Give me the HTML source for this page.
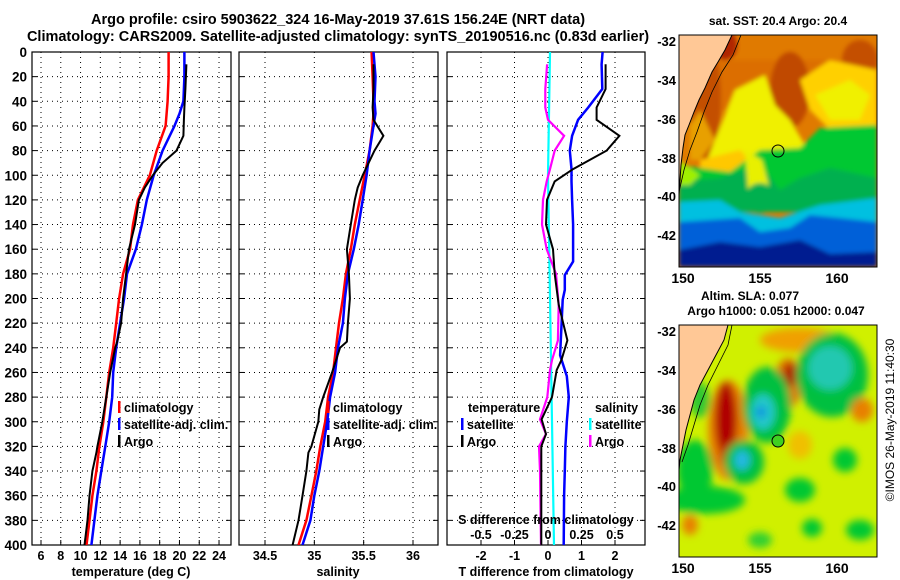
<!DOCTYPE html>
<html><head><meta charset="utf-8">
<style>
html,body{margin:0;padding:0;background:#fff;}
svg{display:block;font-family:"Liberation Sans",Arial,sans-serif;font-weight:bold;}
</style></head>
<body>
<svg id="fig" width="900" height="580" viewBox="0 0 900 580" xmlns="http://www.w3.org/2000/svg">
<defs>
<filter id="bl" x="-20%" y="-20%" width="140%" height="140%"><feGaussianBlur stdDeviation="4"/></filter>
<filter id="bl2" x="-20%" y="-20%" width="140%" height="140%"><feGaussianBlur stdDeviation="2"/></filter>
<clipPath id="c1"><rect x="32" y="52" width="199" height="493"/></clipPath>
<clipPath id="c2"><rect x="239" y="52" width="199" height="493"/></clipPath>
<clipPath id="c3"><rect x="447" y="52" width="198" height="493"/></clipPath>
<clipPath id="m1"><rect x="679" y="35" width="198" height="232"/></clipPath>
<clipPath id="m2"><rect x="679" y="325" width="198" height="232"/></clipPath>
</defs>
<text x="338" y="24" font-size="14.5" text-anchor="middle">Argo profile: csiro 5903622_324 16-May-2019 37.61S 156.24E (NRT data)</text>
<text x="338" y="41" font-size="14.5" text-anchor="middle">Climatology: CARS2009. Satellite-adjusted climatology: synTS_20190516.nc (0.83d earlier)</text>
<g id="grid"></g>
<g id="series"></g>
<g id="labels" font-size="12.5"></g>

<!-- SST map -->
<g>
<text x="778" y="25" font-size="12" text-anchor="middle">sat. SST: 20.4 Argo: 20.4</text>
<g clip-path="url(#m1)">
<rect x="679" y="35" width="198" height="232" fill="#e07a00"/>
<g filter="url(#bl2)">
<path d="M679 60 L877 60 L877 110 L679 110Z" fill="#dc6e00"/>
<ellipse cx="790" cy="90" rx="20" ry="38" fill="#c04a00"/>
<ellipse cx="860" cy="60" rx="18" ry="20" fill="#c45000"/>
<ellipse cx="705" cy="100" rx="16" ry="60" fill="#c45000"/>
<ellipse cx="725" cy="45" rx="12" ry="15" fill="#b02800"/>
<path d="M715 140 L735 90 L765 75 L775 105 L790 120 L805 145 L800 170 L790 185 L765 195 L730 178 L700 178Z" fill="#f0f000"/>
<path d="M700 160 L740 150 L760 170 L700 180Z" fill="#ffc800"/>
<path d="M800 80 L830 60 L877 70 L877 130 L830 130 L810 110Z" fill="#ffd000"/>
<path d="M815 95 L850 80 L870 95 L860 120 L830 120Z" fill="#f0f000"/>
<path d="M690 125 L700 110 L715 140 L700 160 L690 160Z" fill="#e8a000"/>
<path d="M679 165 L730 172 L760 150 L800 148 L820 128 L877 125 L877 205 L679 205Z" fill="#00c830"/>
<path d="M679 182 L720 178 L760 165 L780 190 L800 178 L830 168 L877 178 L877 212 L679 212Z" fill="#00b050"/>
<path d="M745 150 L762 160 L770 190 L748 192Z" fill="#e8f000"/>
<path d="M679 160 L700 175 L690 185 L679 185Z" fill="#a0f000"/>
<path d="M679 202 L720 200 L740 212 L780 218 L820 205 L877 198 L877 240 L679 240Z" fill="#00c0e0"/>
<path d="M679 222 L740 218 L760 232 L790 228 L810 215 L840 218 L877 222 L877 267 L679 267Z" fill="#0060d8"/>
<path d="M679 250 L720 242 L760 247 L800 240 L830 254 L877 252 L877 267 L679 267Z" fill="#001a90"/>
<ellipse cx="760" cy="198" rx="15" ry="15" fill="#00b050"/>
</g>
<path d="M679 35 L732 35 L725 50 L718 62 L712 72 L705 88 L699 100 L694 112 L689 125 L685 135 L683 148 L681 165 L679 195Z" fill="#ffc896" stroke="#000" stroke-width="1"/>
<path d="M741 35 L733 55 L722 72 L712 92 L704 112 L697 132 L690 150 L684 170 L679 192" fill="none" stroke="#000" stroke-width="0.8"/>
</g>
<rect x="679" y="35" width="198" height="232" fill="none" stroke="#000" stroke-width="1"/>
<circle cx="778" cy="151" r="6" fill="none" stroke="#000" stroke-width="1"/>
<g font-size="13">
<text x="676" y="46" text-anchor="end">-32</text><text x="676" y="85" text-anchor="end">-34</text><text x="676" y="124" text-anchor="end">-36</text><text x="676" y="163" text-anchor="end">-38</text><text x="676" y="201" text-anchor="end">-40</text><text x="676" y="240" text-anchor="end">-42</text>
<text x="683" y="283" text-anchor="middle" font-size="14">150</text><text x="760" y="283" text-anchor="middle" font-size="14">155</text><text x="837" y="283" text-anchor="middle" font-size="14">160</text>
</g>
</g>

<!-- SLA map -->
<g>
<text x="750" y="300" font-size="12" text-anchor="middle">Altim. SLA: 0.077</text>
<text x="776" y="315" font-size="12" text-anchor="middle">Argo h1000: 0.051 h2000: 0.047</text>
<g clip-path="url(#m2)">
<rect x="679" y="325" width="198" height="232" fill="#d0f000"/>
<g filter="url(#bl)">
<ellipse cx="800" cy="340" rx="40" ry="12" fill="#f0a000"/>
<ellipse cx="728" cy="430" rx="20" ry="50" fill="#e88000"/>
<ellipse cx="726" cy="420" rx="11" ry="38" fill="#b00000"/>
<ellipse cx="728" cy="455" rx="8" ry="12" fill="#c02000"/>
<ellipse cx="788" cy="383" rx="14" ry="25" fill="#e07800"/>
<ellipse cx="790" cy="375" rx="7" ry="12" fill="#b01800"/>
<ellipse cx="767" cy="405" rx="24" ry="38" fill="#00c040"/>
<ellipse cx="763" cy="412" rx="12" ry="18" fill="#20c8c8"/>
<ellipse cx="761" cy="412" rx="5" ry="6" fill="#1090e0"/>
<ellipse cx="832" cy="375" rx="36" ry="42" fill="#00c040"/>
<ellipse cx="830" cy="368" rx="22" ry="22" fill="#20c8b0"/>
<ellipse cx="862" cy="410" rx="11" ry="12" fill="#e88000"/>
<ellipse cx="744" cy="462" rx="20" ry="22" fill="#00c040"/>
<ellipse cx="742" cy="460" rx="8" ry="10" fill="#20b8e0"/>
<ellipse cx="695" cy="470" rx="18" ry="30" fill="#00c830"/>
<ellipse cx="705" cy="500" rx="40" ry="14" fill="#00c830"/>
<ellipse cx="800" cy="490" rx="15" ry="12" fill="#00c830"/>
<ellipse cx="845" cy="460" rx="12" ry="12" fill="#00c830"/>
<ellipse cx="860" cy="530" rx="14" ry="10" fill="#00c830"/>
<ellipse cx="812" cy="528" rx="10" ry="9" fill="#00c830"/>
<ellipse cx="760" cy="540" rx="12" ry="8" fill="#30d030"/>
<ellipse cx="690" cy="525" rx="8" ry="10" fill="#e88000"/>
<ellipse cx="800" cy="445" rx="12" ry="14" fill="#f0c000"/>
<ellipse cx="700" cy="400" rx="10" ry="18" fill="#30c830"/>
</g>
<path d="M679 325 L728 325 L724 340 L716 355 L708 370 L700 385 L694 400 L690 415 L686 430 L683 445 L680 460 L679 470Z" fill="#ffc896" stroke="#000" stroke-width="1"/>
<path d="M732 325 L728 345 L718 365 L708 385 L700 405 L694 425 L688 445 L682 462" fill="none" stroke="#000" stroke-width="0.8"/>
</g>
<rect x="679" y="325" width="198" height="232" fill="none" stroke="#000" stroke-width="1"/>
<circle cx="778" cy="441" r="6" fill="#40d020" stroke="#000" stroke-width="1"/>
<g font-size="13">
<text x="676" y="336" text-anchor="end">-32</text><text x="676" y="375" text-anchor="end">-34</text><text x="676" y="414" text-anchor="end">-36</text><text x="676" y="453" text-anchor="end">-38</text><text x="676" y="491" text-anchor="end">-40</text><text x="676" y="530" text-anchor="end">-42</text>
<text x="683" y="573" text-anchor="middle" font-size="14">150</text><text x="760" y="573" text-anchor="middle" font-size="14">155</text><text x="837" y="573" text-anchor="middle" font-size="14">160</text>
</g>
<text transform="translate(894,420) rotate(-90)" font-size="12" font-weight="normal" text-anchor="middle">©IMOS 26-May-2019 11:40:30</text>
</g>
</svg>
<script>
// ---- data ----
const depthTicks = [0,20,40,60,80,100,120,140,160,180,200,220,240,260,280,300,320,340,360,380,400];
const tempTicks = [6,8,10,12,14,16,18,20,22,24];
const salTicks = [34.5,35,35.5,36];
const tDiffTicks = [-2,-1,0,1,2];
const sDiffTicks = [-0.5,-0.25,0,0.25,0.5];
const sDiffTickLabels = ["-0.5","-0.25","0","0.25","0.5"];

const depthsClim = [0,20,40,50,60,80,100,120,140,160,180,200,220,240,260,280,300,320,340,360,380,400];
const tempClim = [18.9,18.9,18.8,18.7,18.6,17.7,17.0,15.8,15.3,15.0,14.3,13.9,13.6,13.3,12.9,12.6,12.3,11.9,11.6,11.2,10.9,10.6];
const tempSat = [20.5,20.5,20.4,20.0,19.5,18.3,17.4,16.7,16.2,15.6,14.7,14.4,14.0,13.6,13.3,13.2,12.9,12.5,12.1,11.7,11.4,11.1];
const salClim = [35.58,35.59,35.60,35.60,35.59,35.56,35.51,35.46,35.41,35.37,35.32,35.29,35.25,35.22,35.19,35.14,35.11,35.06,35.02,34.97,34.92,34.84];
const salSat = [35.60,35.62,35.61,35.62,35.60,35.56,35.53,35.49,35.45,35.40,35.34,35.31,35.29,35.24,35.21,35.16,35.13,35.09,35.05,35.00,34.96,34.88];

const depthsArgo = [10,30,45,55,68,80,90,100,110,120,140,160,180,200,220,235,240,260,280,290,300,320,325,340,360,380,400];
const tempArgo = [20.7,20.6,20.5,20.45,20.4,19.7,18.3,17.3,16.5,15.9,15.5,14.9,14.6,14.3,14.1,13.7,13.5,13.0,12.6,12.4,12.2,11.7,11.6,11.2,10.9,10.7,10.4];
const salArgo = [35.60,35.60,35.59,35.60,35.70,35.61,35.55,35.49,35.44,35.41,35.37,35.33,35.35,35.36,35.34,35.33,35.26,35.18,35.09,35.05,35.04,34.97,34.94,34.92,34.88,34.84,34.78];

const depthsDiffSat = [0,10,30,45,55,68,80,95,105,120,140,160,170,181,193,201,246,263,280,300,320,340,360,400];
const tDiffSat = [1.63,1.6,1.62,1.2,0.9,0.72,0.65,0.7,0.7,0.72,0.75,0.75,0.75,0.5,0.5,0.44,0.36,0.56,0.62,0.56,0.52,0.5,0.48,0.47];
const depthsDiffArgo = [10,30,45,55,68,80,95,105,120,140,160,180,205,234,250,258,280,298,310,320,340,400];
const tDiffArgo = [1.72,1.72,1.45,1.45,2.13,1.75,0.75,0.2,-0.03,-0.06,0.15,0.2,0.32,0.58,0.4,0.26,0.12,-0.19,-0.06,-0.2,-0.2,-0.2];
const sDiffArgo = [-0.007,-0.02,-0.02,0,0.12,0.05,0.015,-0.01,-0.037,-0.045,-0.01,0.06,0.08,0.074,0.03,0.015,-0.005,-0.06,-0.015,-0.067,-0.06,-0.052];
const depthsDiffSatS = [0,100,200,300,400];
const sDiffSat = [0.015,0.0,0.015,0.03,0.045];

// ---- scales ----
const Y = d => 52 + d*1.2325;
const XT = t => 41 + (t-6)*9.89;
const XS = s => 265 + (s-34.5)*98.67;
const XD = v => 548 + v*33.5;
const XSD = v => 548 + v*134;
const NS = "http://www.w3.org/2000/svg";
function mk(tag, attrs, parent){const e=document.createElementNS(NS,tag);for(const k in attrs)e.setAttribute(k,attrs[k]);parent.appendChild(e);return e;}
const grid=document.getElementById('grid'), series=document.getElementById('series'), labels=document.getElementById('labels');
const panels=[{x:32,w:199,xs:XT,ticks:tempTicks,clip:'c1'},{x:239,w:199,xs:XS,ticks:salTicks,clip:'c2'},{x:447,w:198,xs:XD,ticks:tDiffTicks,clip:'c3'}];
panels.forEach((p,i)=>{
  const g=mk('g',{},grid);
  
  
  depthTicks.forEach(d=>{
    const y=Y(d);
    if(d>0&&d<400){mk('line',{x1:p.x,x2:p.x+p.w,y1:y,y2:y,stroke:'#000','stroke-width':1,'stroke-dasharray':'1 4'},g);}
    mk('line',{x1:p.x,x2:p.x+5,y1:y,y2:y,stroke:'#000'},g);
    mk('line',{x1:p.x+p.w-5,x2:p.x+p.w,y1:y,y2:y,stroke:'#000'},g);
  });
  p.ticks.forEach(t=>{
    const x=p.xs(t);
    mk('line',{x1:x,x2:x,y1:52,y2:545,stroke:'#000','stroke-dasharray':'1 4'},g);
    mk('line',{x1:x,x2:x,y1:545,y2:540,stroke:'#000'},g);
  });
  const fr=mk('rect',{x:p.x,y:52,width:p.w,height:493,fill:'none',stroke:'#000','stroke-width':1.2},g);
  
  
});
// depth labels
depthTicks.forEach(d=>{
  const t=mk('text',{x:27,y:Y(d)+5,'text-anchor':'end','font-size':13.5},labels);
  
  
  t.textContent=d;
});
function xlabels(ticks,xs,texts,y){ticks.forEach((v,i)=>{const t=mk('text',{x:xs(v),y:y,'text-anchor':'middle'},labels);
  
  
  t.textContent=texts?texts[i]:v;});}
xlabels(tempTicks,XT,null,560);
xlabels(salTicks,XS,null,560);
xlabels(tDiffTicks,XD,null,560);
xlabels(sDiffTicks,XSD,sDiffTickLabels,539);
function lbl(txt,x,y,name){const t=mk('text',{x:x,y:y,'text-anchor':'middle'},labels);
  
  
  t.textContent=txt;}
lbl('temperature (deg C)',131,576,'x-axis-title-temperature');
lbl('salinity',338,576,'x-axis-title-salinity');
lbl('T difference from climatology',546,576,'x-axis-title-t-difference');
lbl('S difference from climatology',546,524,'s-difference-axis-title');

function line(ds,vs,xs,color,w,clip,name){
  const pts=ds.map((d,i)=>xs(vs[i]).toFixed(1)+','+Y(d).toFixed(1)).join(' ');
  const pl=mk('polyline',{points:pts,fill:'none',stroke:color,'stroke-width':w,'clip-path':'url(#'+clip+')','stroke-linejoin':'miter'},series);
  
  
}
line(depthsClim,tempClim,XT,'#ff0000',2.5,'c1','temp-climatology-line');
line(depthsClim,tempSat,XT,'#0000ff',2.5,'c1','temp-satellite-line');
line(depthsArgo,tempArgo,XT,'#000',2,'c1','temp-argo-line');
line(depthsClim,salClim,XS,'#ff0000',2.5,'c2','sal-climatology-line');
line(depthsClim,salSat,XS,'#0000ff',2.5,'c2','sal-satellite-line');
line(depthsArgo,salArgo,XS,'#000',2,'c2','sal-argo-line');
line(depthsDiffSatS,sDiffSat,XSD,'#00ffff',2.2,'c3','s-diff-satellite-line');
line(depthsDiffArgo,sDiffArgo,XSD,'#ff00ff',2.2,'c3','s-diff-argo-line');
line(depthsDiffSat,tDiffSat,XD,'#0000ff',2.5,'c3','t-diff-satellite-line');
line(depthsDiffArgo,tDiffArgo,XD,'#000',2,'c3','t-diff-argo-line');

function legend(x,y,color,txt,name,anchor){
  const g=mk('g',{},labels);
  
  
  if(color) mk('rect',{x:x,y:y-11,width:2.5,height:12,fill:color},g);
  const t=mk('text',{x:x+(color?6:0),y:y,'text-anchor':anchor||'start'},g);
  t.textContent=txt;
}
legend(118,412,'#ff0000','climatology','legend-temp-climatology');
legend(118,429,'#0000ff','satellite-adj. clim.','legend-temp-satellite');
legend(118,446,'#000','Argo','legend-temp-argo');
legend(327,412,'#ff0000','climatology','legend-sal-climatology');
legend(327,429,'#0000ff','satellite-adj. clim.','legend-sal-satellite');
legend(327,446,'#000','Argo','legend-sal-argo');
legend(468,412,null,'temperature','legend-temperature-heading');
legend(461,429,'#0000ff','satellite','legend-tdiff-satellite');
legend(461,446,'#000','Argo','legend-tdiff-argo');
legend(595,412,null,'salinity','legend-salinity-heading');
legend(589,429,'#00ffff','satellite','legend-sdiff-satellite');
legend(589,446,'#ff00ff','Argo','legend-sdiff-argo');
</script>
</body></html>
